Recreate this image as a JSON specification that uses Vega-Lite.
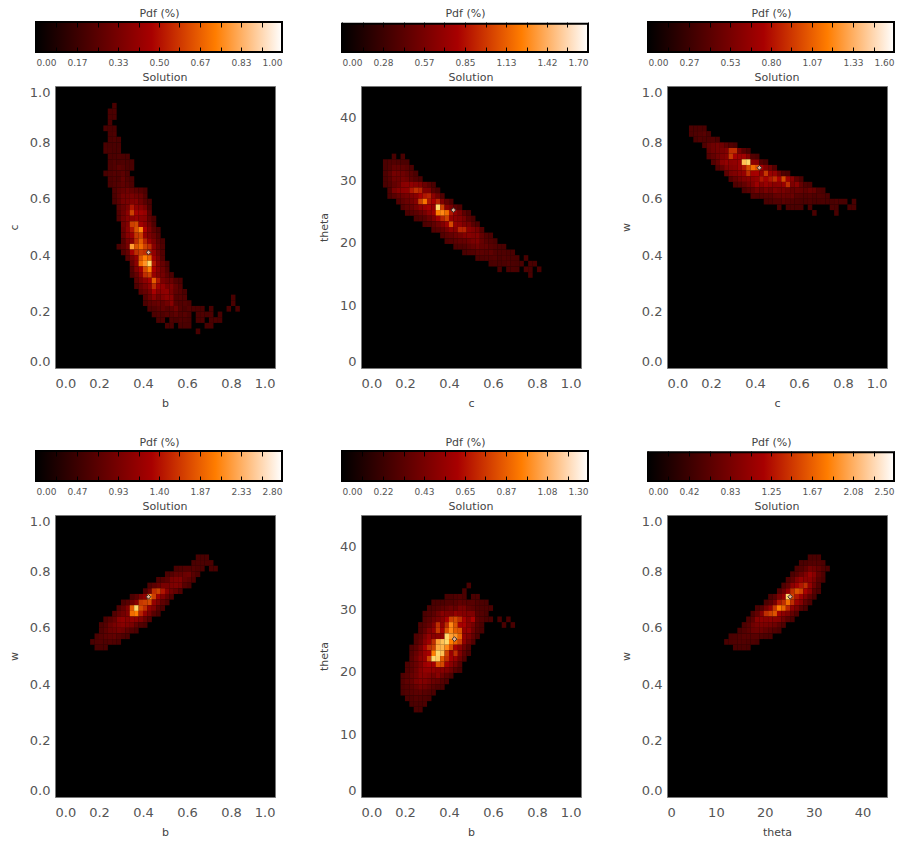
{
"$schema":"https://vega.github.io/schema/vega-lite/v6.json",
"background":"white","padding":{"left":7,"top":7,"right":0,"bottom":0},
"config":{"view":{"stroke":"#777","fill":"#000"},"axis":{"grid":false,"domain":false,"ticks":false,"labelFont":"DejaVu Sans","titleFont":"DejaVu Sans","labelColor":"#555","titleColor":"#444","labelFontSize":13,"titleFontSize":11,"titleFontWeight":"normal"},"title":{"font":"DejaVu Sans","fontSize":11,"fontWeight":"normal","color":"#444","offset":3},"axisX":{"labelPadding":9,"titlePadding":7},"axisY":{"labelFlush":true,"labelPadding":5,"titlePadding":10}},
"datasets":{
"bc":[
{"x":0.27,"y":0.93,"v":8},{"x":0.25,"y":0.91,"v":8},{"x":0.27,"y":0.91,"v":10},{"x":0.25,"y":0.89,"v":8},{"x":0.27,"y":0.89,"v":9},{"x":0.25,"y":0.87,"v":8},{"x":0.23,"y":0.85,"v":8},{"x":0.25,"y":0.85,"v":7},{"x":0.27,"y":0.85,"v":8},{"x":0.25,"y":0.83,"v":8},{"x":0.27,"y":0.83,"v":11},{"x":0.25,"y":0.81,"v":9},{"x":0.27,"y":0.81,"v":12},{"x":0.29,"y":0.81,"v":8},{"x":0.23,"y":0.79,"v":8},{"x":0.25,"y":0.79,"v":7},{"x":0.27,"y":0.79,"v":9},{"x":0.29,"y":0.79,"v":7},{"x":0.23,"y":0.77,"v":10},{"x":0.25,"y":0.77,"v":10},{"x":0.27,"y":0.77,"v":8},{"x":0.29,"y":0.77,"v":9},
{"x":0.25,"y":0.75,"v":10},{"x":0.27,"y":0.75,"v":10},{"x":0.29,"y":0.75,"v":12},{"x":0.31,"y":0.75,"v":9},{"x":0.33,"y":0.75,"v":7},{"x":0.25,"y":0.73,"v":8},{"x":0.27,"y":0.73,"v":14},{"x":0.29,"y":0.73,"v":10},{"x":0.31,"y":0.73,"v":12},{"x":0.33,"y":0.73,"v":9},{"x":0.35,"y":0.73,"v":7},{"x":0.25,"y":0.71,"v":10},{"x":0.27,"y":0.71,"v":14},{"x":0.29,"y":0.71,"v":20},{"x":0.31,"y":0.71,"v":16},{"x":0.33,"y":0.71,"v":10},{"x":0.35,"y":0.71,"v":8},{"x":0.23,"y":0.69,"v":7},{"x":0.25,"y":0.69,"v":12},{"x":0.27,"y":0.69,"v":16},{"x":0.29,"y":0.69,"v":14},{"x":0.31,"y":0.69,"v":20},{"x":0.33,"y":0.69,"v":12},{"x":0.25,"y":0.67,"v":10},{"x":0.27,"y":0.67,"v":14},{"x":0.29,"y":0.67,"v":12},{"x":0.31,"y":0.67,"v":24},{"x":0.33,"y":0.67,"v":14},{"x":0.35,"y":0.67,"v":8},{"x":0.25,"y":0.65,"v":8},{"x":0.27,"y":0.65,"v":14},{"x":0.29,"y":0.65,"v":16},{"x":0.31,"y":0.65,"v":22},{"x":0.33,"y":0.65,"v":18},{"x":0.35,"y":0.65,"v":10},
{"x":0.27,"y":0.63,"v":12},{"x":0.29,"y":0.63,"v":20},{"x":0.31,"y":0.63,"v":26},{"x":0.33,"y":0.63,"v":30},{"x":0.35,"y":0.63,"v":24},{"x":0.37,"y":0.63,"v":20},{"x":0.39,"y":0.63,"v":16},{"x":0.41,"y":0.63,"v":8},{"x":0.27,"y":0.61,"v":10},{"x":0.29,"y":0.61,"v":22},{"x":0.31,"y":0.61,"v":34},{"x":0.33,"y":0.61,"v":34},{"x":0.35,"y":0.61,"v":36},{"x":0.37,"y":0.61,"v":32},{"x":0.39,"y":0.61,"v":28},{"x":0.41,"y":0.61,"v":14},{"x":0.27,"y":0.59,"v":8},{"x":0.29,"y":0.59,"v":20},{"x":0.31,"y":0.59,"v":34},{"x":0.33,"y":0.59,"v":36},{"x":0.35,"y":0.59,"v":40},{"x":0.37,"y":0.59,"v":42},{"x":0.39,"y":0.59,"v":30},{"x":0.41,"y":0.59,"v":18},{"x":0.43,"y":0.59,"v":8},{"x":0.29,"y":0.57,"v":18},{"x":0.31,"y":0.57,"v":28},{"x":0.33,"y":0.57,"v":38},{"x":0.35,"y":0.57,"v":62},{"x":0.37,"y":0.57,"v":48},{"x":0.39,"y":0.57,"v":44},{"x":0.41,"y":0.57,"v":34},{"x":0.43,"y":0.57,"v":10},
{"x":0.29,"y":0.55,"v":14},{"x":0.31,"y":0.55,"v":30},{"x":0.33,"y":0.55,"v":46},{"x":0.35,"y":0.55,"v":70},{"x":0.37,"y":0.55,"v":60},{"x":0.39,"y":0.55,"v":56},{"x":0.41,"y":0.55,"v":50},{"x":0.43,"y":0.55,"v":20},{"x":0.29,"y":0.53,"v":12},{"x":0.31,"y":0.53,"v":32},{"x":0.33,"y":0.53,"v":44},{"x":0.35,"y":0.53,"v":46},{"x":0.37,"y":0.53,"v":52},{"x":0.39,"y":0.53,"v":46},{"x":0.41,"y":0.53,"v":44},{"x":0.43,"y":0.53,"v":24},{"x":0.45,"y":0.53,"v":10},{"x":0.31,"y":0.51,"v":30},{"x":0.33,"y":0.51,"v":42},{"x":0.35,"y":0.51,"v":70},{"x":0.37,"y":0.51,"v":72},{"x":0.39,"y":0.51,"v":56},{"x":0.41,"y":0.51,"v":46},{"x":0.43,"y":0.51,"v":32},{"x":0.45,"y":0.51,"v":12},{"x":0.31,"y":0.49,"v":26},{"x":0.33,"y":0.49,"v":46},{"x":0.35,"y":0.49,"v":62},{"x":0.37,"y":0.49,"v":74},{"x":0.39,"y":0.49,"v":85},{"x":0.41,"y":0.49,"v":60},{"x":0.43,"y":0.49,"v":40},{"x":0.45,"y":0.49,"v":20},{"x":0.47,"y":0.49,"v":8},
{"x":0.31,"y":0.47,"v":24},{"x":0.33,"y":0.47,"v":44},{"x":0.35,"y":0.47,"v":54},{"x":0.37,"y":0.47,"v":68},{"x":0.39,"y":0.47,"v":70},{"x":0.41,"y":0.47,"v":50},{"x":0.43,"y":0.47,"v":38},{"x":0.45,"y":0.47,"v":28},{"x":0.47,"y":0.47,"v":14},{"x":0.31,"y":0.45,"v":16},{"x":0.33,"y":0.45,"v":36},{"x":0.35,"y":0.45,"v":44},{"x":0.37,"y":0.45,"v":66},{"x":0.39,"y":0.45,"v":76},{"x":0.41,"y":0.45,"v":64},{"x":0.43,"y":0.45,"v":52},{"x":0.45,"y":0.45,"v":36},{"x":0.47,"y":0.45,"v":20},{"x":0.49,"y":0.45,"v":8},{"x":0.29,"y":0.43,"v":8},{"x":0.31,"y":0.43,"v":20},{"x":0.33,"y":0.43,"v":36},{"x":0.35,"y":0.43,"v":90},{"x":0.37,"y":0.43,"v":74},{"x":0.39,"y":0.43,"v":80},{"x":0.41,"y":0.43,"v":70},{"x":0.43,"y":0.43,"v":66},{"x":0.45,"y":0.43,"v":44},{"x":0.47,"y":0.43,"v":26},{"x":0.49,"y":0.43,"v":12},{"x":0.31,"y":0.41,"v":14},{"x":0.33,"y":0.41,"v":26},{"x":0.35,"y":0.41,"v":58},{"x":0.37,"y":0.41,"v":66},{"x":0.39,"y":0.41,"v":68},{"x":0.41,"y":0.41,"v":66},{"x":0.43,"y":0.41,"v":62},{"x":0.45,"y":0.41,"v":48},{"x":0.47,"y":0.41,"v":30},{"x":0.49,"y":0.41,"v":14},
{"x":0.33,"y":0.39,"v":18},{"x":0.35,"y":0.39,"v":34},{"x":0.37,"y":0.39,"v":50},{"x":0.39,"y":0.39,"v":74},{"x":0.41,"y":0.39,"v":84},{"x":0.43,"y":0.39,"v":78},{"x":0.45,"y":0.39,"v":56},{"x":0.47,"y":0.39,"v":38},{"x":0.49,"y":0.39,"v":16},{"x":0.35,"y":0.37,"v":24},{"x":0.37,"y":0.37,"v":46},{"x":0.39,"y":0.37,"v":80},{"x":0.41,"y":0.37,"v":88},{"x":0.43,"y":0.37,"v":100},{"x":0.45,"y":0.37,"v":62},{"x":0.47,"y":0.37,"v":42},{"x":0.49,"y":0.37,"v":26},{"x":0.51,"y":0.37,"v":10},{"x":0.35,"y":0.35,"v":14},{"x":0.37,"y":0.35,"v":40},{"x":0.39,"y":0.35,"v":56},{"x":0.41,"y":0.35,"v":72},{"x":0.43,"y":0.35,"v":84},{"x":0.45,"y":0.35,"v":60},{"x":0.47,"y":0.35,"v":44},{"x":0.49,"y":0.35,"v":30},{"x":0.51,"y":0.35,"v":14},{"x":0.35,"y":0.33,"v":10},{"x":0.37,"y":0.33,"v":26},{"x":0.39,"y":0.33,"v":46},{"x":0.41,"y":0.33,"v":66},{"x":0.43,"y":0.33,"v":70},{"x":0.45,"y":0.33,"v":52},{"x":0.47,"y":0.33,"v":40},{"x":0.49,"y":0.33,"v":34},{"x":0.51,"y":0.33,"v":20},{"x":0.53,"y":0.33,"v":8},
{"x":0.37,"y":0.31,"v":22},{"x":0.39,"y":0.31,"v":34},{"x":0.41,"y":0.31,"v":46},{"x":0.43,"y":0.31,"v":58},{"x":0.45,"y":0.31,"v":76},{"x":0.47,"y":0.31,"v":62},{"x":0.49,"y":0.31,"v":36},{"x":0.51,"y":0.31,"v":30},{"x":0.53,"y":0.31,"v":28},{"x":0.55,"y":0.31,"v":14},{"x":0.57,"y":0.31,"v":8},{"x":0.37,"y":0.29,"v":12},{"x":0.39,"y":0.29,"v":26},{"x":0.41,"y":0.29,"v":36},{"x":0.43,"y":0.29,"v":48},{"x":0.45,"y":0.29,"v":66},{"x":0.47,"y":0.29,"v":56},{"x":0.49,"y":0.29,"v":50},{"x":0.51,"y":0.29,"v":36},{"x":0.53,"y":0.29,"v":40},{"x":0.55,"y":0.29,"v":24},{"x":0.57,"y":0.29,"v":14},{"x":0.39,"y":0.27,"v":18},{"x":0.41,"y":0.27,"v":26},{"x":0.43,"y":0.27,"v":36},{"x":0.45,"y":0.27,"v":60},{"x":0.47,"y":0.27,"v":44},{"x":0.49,"y":0.27,"v":46},{"x":0.51,"y":0.27,"v":48},{"x":0.53,"y":0.27,"v":36},{"x":0.55,"y":0.27,"v":22},{"x":0.57,"y":0.27,"v":18},{"x":0.59,"y":0.27,"v":8},
{"x":0.41,"y":0.25,"v":16},{"x":0.43,"y":0.25,"v":30},{"x":0.45,"y":0.25,"v":44},{"x":0.47,"y":0.25,"v":32},{"x":0.49,"y":0.25,"v":40},{"x":0.51,"y":0.25,"v":46},{"x":0.53,"y":0.25,"v":44},{"x":0.55,"y":0.25,"v":16},{"x":0.57,"y":0.25,"v":18},{"x":0.59,"y":0.25,"v":14},{"x":0.81,"y":0.25,"v":7},{"x":0.41,"y":0.23,"v":10},{"x":0.43,"y":0.23,"v":20},{"x":0.45,"y":0.23,"v":24},{"x":0.47,"y":0.23,"v":28},{"x":0.49,"y":0.23,"v":24},{"x":0.51,"y":0.23,"v":32},{"x":0.53,"y":0.23,"v":44},{"x":0.55,"y":0.23,"v":18},{"x":0.57,"y":0.23,"v":14},{"x":0.59,"y":0.23,"v":16},{"x":0.61,"y":0.23,"v":10},{"x":0.81,"y":0.23,"v":8},{"x":0.43,"y":0.21,"v":12},{"x":0.45,"y":0.21,"v":14},{"x":0.47,"y":0.21,"v":20},{"x":0.49,"y":0.21,"v":24},{"x":0.51,"y":0.21,"v":18},{"x":0.53,"y":0.21,"v":22},{"x":0.55,"y":0.21,"v":30},{"x":0.57,"y":0.21,"v":16},{"x":0.59,"y":0.21,"v":10},{"x":0.61,"y":0.21,"v":16},{"x":0.63,"y":0.21,"v":10},{"x":0.65,"y":0.21,"v":8},{"x":0.67,"y":0.21,"v":8},{"x":0.71,"y":0.21,"v":7},{"x":0.79,"y":0.21,"v":7},{"x":0.83,"y":0.21,"v":8},
{"x":0.45,"y":0.19,"v":10},{"x":0.47,"y":0.19,"v":14},{"x":0.49,"y":0.19,"v":12},{"x":0.51,"y":0.19,"v":18},{"x":0.53,"y":0.19,"v":16},{"x":0.55,"y":0.19,"v":22},{"x":0.57,"y":0.19,"v":14},{"x":0.59,"y":0.19,"v":18},{"x":0.61,"y":0.19,"v":10},{"x":0.65,"y":0.19,"v":10},{"x":0.67,"y":0.19,"v":12},{"x":0.69,"y":0.19,"v":8},{"x":0.71,"y":0.19,"v":10},{"x":0.75,"y":0.19,"v":7},{"x":0.47,"y":0.17,"v":8},{"x":0.49,"y":0.17,"v":10},{"x":0.53,"y":0.17,"v":12},{"x":0.55,"y":0.17,"v":8},{"x":0.57,"y":0.17,"v":14},{"x":0.59,"y":0.17,"v":12},{"x":0.61,"y":0.17,"v":8},{"x":0.65,"y":0.17,"v":8},{"x":0.67,"y":0.17,"v":10},{"x":0.71,"y":0.17,"v":8},{"x":0.73,"y":0.17,"v":10},{"x":0.75,"y":0.17,"v":7},{"x":0.51,"y":0.15,"v":7},{"x":0.53,"y":0.15,"v":8},{"x":0.57,"y":0.15,"v":8},{"x":0.59,"y":0.15,"v":8},{"x":0.61,"y":0.15,"v":7},{"x":0.69,"y":0.15,"v":7},{"x":0.71,"y":0.15,"v":8},{"x":0.65,"y":0.13,"v":7}
],
"ct":[
{"x":0.15,"y":33.75,"v":8},{"x":0.19,"y":33.75,"v":8},{"x":0.11,"y":32.85,"v":8},{"x":0.13,"y":32.85,"v":12},{"x":0.15,"y":32.85,"v":14},{"x":0.17,"y":32.85,"v":12},{"x":0.19,"y":32.85,"v":10},{"x":0.21,"y":32.85,"v":8},{"x":0.11,"y":31.95,"v":8},{"x":0.13,"y":31.95,"v":14},{"x":0.15,"y":31.95,"v":24},{"x":0.17,"y":31.95,"v":24},{"x":0.19,"y":31.95,"v":22},{"x":0.21,"y":31.95,"v":18},{"x":0.23,"y":31.95,"v":10},{"x":0.11,"y":31.05,"v":10},{"x":0.13,"y":31.05,"v":20},{"x":0.15,"y":31.05,"v":34},{"x":0.17,"y":31.05,"v":32},{"x":0.19,"y":31.05,"v":30},{"x":0.21,"y":31.05,"v":24},{"x":0.23,"y":31.05,"v":18},{"x":0.25,"y":31.05,"v":8},{"x":0.11,"y":30.15,"v":8},{"x":0.13,"y":30.15,"v":18},{"x":0.15,"y":30.15,"v":30},{"x":0.17,"y":30.15,"v":30},{"x":0.19,"y":30.15,"v":34},{"x":0.21,"y":30.15,"v":30},{"x":0.23,"y":30.15,"v":22},{"x":0.25,"y":30.15,"v":14},{"x":0.27,"y":30.15,"v":8},
{"x":0.11,"y":29.25,"v":8},{"x":0.13,"y":29.25,"v":14},{"x":0.15,"y":29.25,"v":24},{"x":0.17,"y":29.25,"v":30},{"x":0.19,"y":29.25,"v":44},{"x":0.21,"y":29.25,"v":46},{"x":0.23,"y":29.25,"v":48},{"x":0.25,"y":29.25,"v":44},{"x":0.27,"y":29.25,"v":40},{"x":0.29,"y":29.25,"v":28},{"x":0.31,"y":29.25,"v":18},{"x":0.33,"y":29.25,"v":8},{"x":0.13,"y":28.35,"v":12},{"x":0.15,"y":28.35,"v":36},{"x":0.17,"y":28.35,"v":44},{"x":0.19,"y":28.35,"v":46},{"x":0.21,"y":28.35,"v":48},{"x":0.23,"y":28.35,"v":62},{"x":0.25,"y":28.35,"v":66},{"x":0.27,"y":28.35,"v":64},{"x":0.29,"y":28.35,"v":40},{"x":0.31,"y":28.35,"v":38},{"x":0.33,"y":28.35,"v":18},{"x":0.35,"y":28.35,"v":8},{"x":0.13,"y":27.45,"v":8},{"x":0.15,"y":27.45,"v":18},{"x":0.17,"y":27.45,"v":26},{"x":0.19,"y":27.45,"v":30},{"x":0.21,"y":27.45,"v":34},{"x":0.23,"y":27.45,"v":40},{"x":0.25,"y":27.45,"v":44},{"x":0.27,"y":27.45,"v":60},{"x":0.29,"y":27.45,"v":62},{"x":0.31,"y":27.45,"v":64},{"x":0.33,"y":27.45,"v":46},{"x":0.35,"y":27.45,"v":30},{"x":0.37,"y":27.45,"v":12},
{"x":0.17,"y":26.55,"v":14},{"x":0.19,"y":26.55,"v":22},{"x":0.21,"y":26.55,"v":28},{"x":0.23,"y":26.55,"v":34},{"x":0.25,"y":26.55,"v":42},{"x":0.27,"y":26.55,"v":70},{"x":0.29,"y":26.55,"v":82},{"x":0.31,"y":26.55,"v":62},{"x":0.33,"y":26.55,"v":60},{"x":0.35,"y":26.55,"v":64},{"x":0.37,"y":26.55,"v":40},{"x":0.39,"y":26.55,"v":24},{"x":0.41,"y":26.55,"v":12},{"x":0.19,"y":25.65,"v":14},{"x":0.21,"y":25.65,"v":22},{"x":0.23,"y":25.65,"v":26},{"x":0.25,"y":25.65,"v":34},{"x":0.27,"y":25.65,"v":46},{"x":0.29,"y":25.65,"v":52},{"x":0.31,"y":25.65,"v":58},{"x":0.33,"y":25.65,"v":50},{"x":0.35,"y":25.65,"v":100},{"x":0.37,"y":25.65,"v":70},{"x":0.39,"y":25.65,"v":44},{"x":0.41,"y":25.65,"v":34},{"x":0.43,"y":25.65,"v":20},{"x":0.45,"y":25.65,"v":10},{"x":0.21,"y":24.75,"v":10},{"x":0.23,"y":24.75,"v":16},{"x":0.25,"y":24.75,"v":20},{"x":0.27,"y":24.75,"v":28},{"x":0.29,"y":24.75,"v":34},{"x":0.31,"y":24.75,"v":46},{"x":0.33,"y":24.75,"v":56},{"x":0.35,"y":24.75,"v":84},{"x":0.37,"y":24.75,"v":86},{"x":0.39,"y":24.75,"v":80},{"x":0.41,"y":24.75,"v":62},{"x":0.43,"y":24.75,"v":50},{"x":0.45,"y":24.75,"v":36},{"x":0.47,"y":24.75,"v":20},{"x":0.49,"y":24.75,"v":8},
{"x":0.25,"y":23.85,"v":10},{"x":0.27,"y":23.85,"v":14},{"x":0.29,"y":23.85,"v":18},{"x":0.31,"y":23.85,"v":28},{"x":0.33,"y":23.85,"v":40},{"x":0.35,"y":23.85,"v":56},{"x":0.37,"y":23.85,"v":64},{"x":0.39,"y":23.85,"v":70},{"x":0.41,"y":23.85,"v":50},{"x":0.43,"y":23.85,"v":46},{"x":0.45,"y":23.85,"v":42},{"x":0.47,"y":23.85,"v":34},{"x":0.49,"y":23.85,"v":18},{"x":0.51,"y":23.85,"v":8},{"x":0.29,"y":22.95,"v":10},{"x":0.31,"y":22.95,"v":14},{"x":0.33,"y":22.95,"v":22},{"x":0.35,"y":22.95,"v":30},{"x":0.37,"y":22.95,"v":40},{"x":0.39,"y":22.95,"v":54},{"x":0.41,"y":22.95,"v":72},{"x":0.43,"y":22.95,"v":50},{"x":0.45,"y":22.95,"v":46},{"x":0.47,"y":22.95,"v":38},{"x":0.49,"y":22.95,"v":34},{"x":0.51,"y":22.95,"v":18},{"x":0.53,"y":22.95,"v":10},{"x":0.33,"y":22.05,"v":14},{"x":0.35,"y":22.05,"v":18},{"x":0.37,"y":22.05,"v":24},{"x":0.39,"y":22.05,"v":34},{"x":0.41,"y":22.05,"v":46},{"x":0.43,"y":22.05,"v":44},{"x":0.45,"y":22.05,"v":64},{"x":0.47,"y":22.05,"v":64},{"x":0.49,"y":22.05,"v":46},{"x":0.51,"y":22.05,"v":40},{"x":0.53,"y":22.05,"v":34},{"x":0.55,"y":22.05,"v":14},
{"x":0.37,"y":21.15,"v":14},{"x":0.39,"y":21.15,"v":20},{"x":0.41,"y":21.15,"v":24},{"x":0.43,"y":21.15,"v":30},{"x":0.45,"y":21.15,"v":34},{"x":0.47,"y":21.15,"v":42},{"x":0.49,"y":21.15,"v":44},{"x":0.51,"y":21.15,"v":40},{"x":0.53,"y":21.15,"v":42},{"x":0.55,"y":21.15,"v":24},{"x":0.57,"y":21.15,"v":14},{"x":0.59,"y":21.15,"v":8},{"x":0.39,"y":20.25,"v":12},{"x":0.41,"y":20.25,"v":16},{"x":0.43,"y":20.25,"v":20},{"x":0.45,"y":20.25,"v":24},{"x":0.47,"y":20.25,"v":26},{"x":0.49,"y":20.25,"v":30},{"x":0.51,"y":20.25,"v":36},{"x":0.53,"y":20.25,"v":40},{"x":0.55,"y":20.25,"v":26},{"x":0.57,"y":20.25,"v":18},{"x":0.59,"y":20.25,"v":14},{"x":0.61,"y":20.25,"v":8},{"x":0.43,"y":19.35,"v":10},{"x":0.45,"y":19.35,"v":12},{"x":0.47,"y":19.35,"v":14},{"x":0.49,"y":19.35,"v":20},{"x":0.51,"y":19.35,"v":26},{"x":0.53,"y":19.35,"v":32},{"x":0.55,"y":19.35,"v":24},{"x":0.57,"y":19.35,"v":24},{"x":0.59,"y":19.35,"v":18},{"x":0.61,"y":19.35,"v":14},{"x":0.63,"y":19.35,"v":10},{"x":0.65,"y":19.35,"v":8},
{"x":0.47,"y":18.45,"v":8},{"x":0.49,"y":18.45,"v":12},{"x":0.51,"y":18.45,"v":14},{"x":0.53,"y":18.45,"v":20},{"x":0.55,"y":18.45,"v":20},{"x":0.57,"y":18.45,"v":18},{"x":0.59,"y":18.45,"v":22},{"x":0.61,"y":18.45,"v":14},{"x":0.63,"y":18.45,"v":12},{"x":0.65,"y":18.45,"v":12},{"x":0.67,"y":18.45,"v":10},{"x":0.69,"y":18.45,"v":8},{"x":0.53,"y":17.55,"v":10},{"x":0.55,"y":17.55,"v":12},{"x":0.57,"y":17.55,"v":14},{"x":0.59,"y":17.55,"v":14},{"x":0.61,"y":17.55,"v":16},{"x":0.63,"y":17.55,"v":10},{"x":0.65,"y":17.55,"v":14},{"x":0.67,"y":17.55,"v":12},{"x":0.69,"y":17.55,"v":10},{"x":0.71,"y":17.55,"v":8},{"x":0.75,"y":17.55,"v":7},{"x":0.59,"y":16.65,"v":8},{"x":0.61,"y":16.65,"v":10},{"x":0.63,"y":16.65,"v":8},{"x":0.65,"y":16.65,"v":10},{"x":0.67,"y":16.65,"v":14},{"x":0.69,"y":16.65,"v":10},{"x":0.71,"y":16.65,"v":7},{"x":0.73,"y":16.65,"v":8},{"x":0.77,"y":16.65,"v":8},{"x":0.79,"y":16.65,"v":7},{"x":0.63,"y":15.75,"v":7},{"x":0.67,"y":15.75,"v":8},{"x":0.69,"y":15.75,"v":10},{"x":0.71,"y":15.75,"v":8},{"x":0.75,"y":15.75,"v":10},{"x":0.77,"y":15.75,"v":7},{"x":0.81,"y":15.75,"v":7},{"x":0.77,"y":14.85,"v":7}
],
"cw":[
{"x":0.11,"y":0.85,"v":10},{"x":0.13,"y":0.85,"v":8},{"x":0.15,"y":0.85,"v":9},{"x":0.17,"y":0.85,"v":8},{"x":0.11,"y":0.83,"v":9},{"x":0.13,"y":0.83,"v":12},{"x":0.15,"y":0.83,"v":14},{"x":0.17,"y":0.83,"v":18},{"x":0.19,"y":0.83,"v":8},{"x":0.13,"y":0.81,"v":8},{"x":0.15,"y":0.81,"v":14},{"x":0.17,"y":0.81,"v":12},{"x":0.19,"y":0.81,"v":12},{"x":0.21,"y":0.81,"v":14},{"x":0.23,"y":0.81,"v":8},{"x":0.17,"y":0.79,"v":12},{"x":0.19,"y":0.79,"v":24},{"x":0.21,"y":0.79,"v":30},{"x":0.23,"y":0.79,"v":34},{"x":0.25,"y":0.79,"v":30},{"x":0.27,"y":0.79,"v":22},{"x":0.29,"y":0.79,"v":14},{"x":0.31,"y":0.79,"v":8},{"x":0.19,"y":0.77,"v":22},{"x":0.21,"y":0.77,"v":30},{"x":0.23,"y":0.77,"v":34},{"x":0.25,"y":0.77,"v":36},{"x":0.27,"y":0.77,"v":42},{"x":0.29,"y":0.77,"v":66},{"x":0.31,"y":0.77,"v":66},{"x":0.33,"y":0.77,"v":36},{"x":0.35,"y":0.77,"v":18},{"x":0.37,"y":0.77,"v":8},
{"x":0.19,"y":0.75,"v":16},{"x":0.21,"y":0.75,"v":24},{"x":0.23,"y":0.75,"v":32},{"x":0.25,"y":0.75,"v":38},{"x":0.27,"y":0.75,"v":44},{"x":0.29,"y":0.75,"v":68},{"x":0.31,"y":0.75,"v":60},{"x":0.33,"y":0.75,"v":54},{"x":0.35,"y":0.75,"v":56},{"x":0.37,"y":0.75,"v":42},{"x":0.39,"y":0.75,"v":14},{"x":0.41,"y":0.75,"v":8},{"x":0.21,"y":0.73,"v":14},{"x":0.23,"y":0.73,"v":26},{"x":0.25,"y":0.73,"v":44},{"x":0.27,"y":0.73,"v":50},{"x":0.29,"y":0.73,"v":46},{"x":0.31,"y":0.73,"v":48},{"x":0.33,"y":0.73,"v":54},{"x":0.35,"y":0.73,"v":96},{"x":0.37,"y":0.73,"v":100},{"x":0.39,"y":0.73,"v":46},{"x":0.41,"y":0.73,"v":44},{"x":0.43,"y":0.73,"v":16},{"x":0.45,"y":0.73,"v":8},{"x":0.23,"y":0.71,"v":14},{"x":0.25,"y":0.71,"v":24},{"x":0.27,"y":0.71,"v":40},{"x":0.29,"y":0.71,"v":42},{"x":0.31,"y":0.71,"v":44},{"x":0.33,"y":0.71,"v":54},{"x":0.35,"y":0.71,"v":62},{"x":0.37,"y":0.71,"v":72},{"x":0.39,"y":0.71,"v":80},{"x":0.41,"y":0.71,"v":74},{"x":0.43,"y":0.71,"v":60},{"x":0.45,"y":0.71,"v":40},{"x":0.47,"y":0.71,"v":32},{"x":0.49,"y":0.71,"v":14},
{"x":0.27,"y":0.69,"v":22},{"x":0.29,"y":0.69,"v":36},{"x":0.31,"y":0.69,"v":40},{"x":0.33,"y":0.69,"v":46},{"x":0.35,"y":0.69,"v":50},{"x":0.37,"y":0.69,"v":66},{"x":0.39,"y":0.69,"v":58},{"x":0.41,"y":0.69,"v":60},{"x":0.43,"y":0.69,"v":50},{"x":0.45,"y":0.69,"v":68},{"x":0.47,"y":0.69,"v":52},{"x":0.49,"y":0.69,"v":50},{"x":0.51,"y":0.69,"v":30},{"x":0.53,"y":0.69,"v":14},{"x":0.55,"y":0.69,"v":8},{"x":0.29,"y":0.67,"v":16},{"x":0.31,"y":0.67,"v":26},{"x":0.33,"y":0.67,"v":34},{"x":0.35,"y":0.67,"v":40},{"x":0.37,"y":0.67,"v":44},{"x":0.39,"y":0.67,"v":46},{"x":0.41,"y":0.67,"v":50},{"x":0.43,"y":0.67,"v":62},{"x":0.45,"y":0.67,"v":58},{"x":0.47,"y":0.67,"v":62},{"x":0.49,"y":0.67,"v":66},{"x":0.51,"y":0.67,"v":60},{"x":0.53,"y":0.67,"v":72},{"x":0.55,"y":0.67,"v":56},{"x":0.57,"y":0.67,"v":44},{"x":0.59,"y":0.67,"v":22},{"x":0.61,"y":0.67,"v":8},
{"x":0.31,"y":0.65,"v":12},{"x":0.33,"y":0.65,"v":18},{"x":0.35,"y":0.65,"v":24},{"x":0.37,"y":0.65,"v":34},{"x":0.39,"y":0.65,"v":40},{"x":0.41,"y":0.65,"v":54},{"x":0.43,"y":0.65,"v":44},{"x":0.45,"y":0.65,"v":52},{"x":0.47,"y":0.65,"v":48},{"x":0.49,"y":0.65,"v":44},{"x":0.51,"y":0.65,"v":46},{"x":0.53,"y":0.65,"v":52},{"x":0.55,"y":0.65,"v":66},{"x":0.57,"y":0.65,"v":38},{"x":0.59,"y":0.65,"v":46},{"x":0.61,"y":0.65,"v":24},{"x":0.63,"y":0.65,"v":12},{"x":0.65,"y":0.65,"v":8},{"x":0.35,"y":0.63,"v":10},{"x":0.37,"y":0.63,"v":18},{"x":0.39,"y":0.63,"v":24},{"x":0.41,"y":0.63,"v":34},{"x":0.43,"y":0.63,"v":28},{"x":0.45,"y":0.63,"v":36},{"x":0.47,"y":0.63,"v":30},{"x":0.49,"y":0.63,"v":40},{"x":0.51,"y":0.63,"v":34},{"x":0.53,"y":0.63,"v":36},{"x":0.55,"y":0.63,"v":30},{"x":0.57,"y":0.63,"v":26},{"x":0.59,"y":0.63,"v":28},{"x":0.61,"y":0.63,"v":26},{"x":0.63,"y":0.63,"v":22},{"x":0.65,"y":0.63,"v":28},{"x":0.67,"y":0.63,"v":26},{"x":0.69,"y":0.63,"v":12},{"x":0.71,"y":0.63,"v":8},
{"x":0.39,"y":0.61,"v":14},{"x":0.41,"y":0.61,"v":12},{"x":0.43,"y":0.61,"v":16},{"x":0.45,"y":0.61,"v":18},{"x":0.47,"y":0.61,"v":18},{"x":0.49,"y":0.61,"v":24},{"x":0.51,"y":0.61,"v":26},{"x":0.53,"y":0.61,"v":28},{"x":0.55,"y":0.61,"v":26},{"x":0.57,"y":0.61,"v":28},{"x":0.59,"y":0.61,"v":18},{"x":0.61,"y":0.61,"v":16},{"x":0.63,"y":0.61,"v":14},{"x":0.65,"y":0.61,"v":16},{"x":0.67,"y":0.61,"v":12},{"x":0.69,"y":0.61,"v":14},{"x":0.71,"y":0.61,"v":12},{"x":0.73,"y":0.61,"v":8},{"x":0.45,"y":0.59,"v":8},{"x":0.47,"y":0.59,"v":10},{"x":0.49,"y":0.59,"v":14},{"x":0.51,"y":0.59,"v":14},{"x":0.53,"y":0.59,"v":20},{"x":0.55,"y":0.59,"v":16},{"x":0.57,"y":0.59,"v":14},{"x":0.59,"y":0.59,"v":12},{"x":0.61,"y":0.59,"v":10},{"x":0.63,"y":0.59,"v":10},{"x":0.65,"y":0.59,"v":12},{"x":0.67,"y":0.59,"v":8},{"x":0.69,"y":0.59,"v":8},{"x":0.71,"y":0.59,"v":10},{"x":0.73,"y":0.59,"v":8},{"x":0.75,"y":0.59,"v":8},{"x":0.77,"y":0.59,"v":12},{"x":0.79,"y":0.59,"v":8},{"x":0.81,"y":0.59,"v":7},{"x":0.85,"y":0.59,"v":7},{"x":0.51,"y":0.57,"v":8},{"x":0.55,"y":0.57,"v":9},{"x":0.57,"y":0.57,"v":10},{"x":0.59,"y":0.57,"v":8},{"x":0.61,"y":0.57,"v":8},{"x":0.65,"y":0.57,"v":8},{"x":0.75,"y":0.57,"v":10},{"x":0.77,"y":0.57,"v":8},{"x":0.83,"y":0.57,"v":8},{"x":0.85,"y":0.57,"v":8},{"x":0.67,"y":0.55,"v":8},{"x":0.77,"y":0.55,"v":7}
],
"bw":[
{"x":0.65,"y":0.85,"v":8},{"x":0.67,"y":0.85,"v":8},{"x":0.69,"y":0.85,"v":8},{"x":0.63,"y":0.83,"v":8},{"x":0.65,"y":0.83,"v":10},{"x":0.67,"y":0.83,"v":10},{"x":0.69,"y":0.83,"v":9},{"x":0.71,"y":0.83,"v":8},{"x":0.55,"y":0.81,"v":8},{"x":0.57,"y":0.81,"v":12},{"x":0.59,"y":0.81,"v":14},{"x":0.61,"y":0.81,"v":14},{"x":0.63,"y":0.81,"v":16},{"x":0.65,"y":0.81,"v":12},{"x":0.67,"y":0.81,"v":10},{"x":0.71,"y":0.81,"v":8},{"x":0.73,"y":0.81,"v":8},{"x":0.51,"y":0.79,"v":10},{"x":0.53,"y":0.79,"v":16},{"x":0.55,"y":0.79,"v":24},{"x":0.57,"y":0.79,"v":24},{"x":0.59,"y":0.79,"v":28},{"x":0.61,"y":0.79,"v":30},{"x":0.63,"y":0.79,"v":18},{"x":0.65,"y":0.79,"v":10},{"x":0.47,"y":0.77,"v":10},{"x":0.49,"y":0.77,"v":14},{"x":0.51,"y":0.77,"v":20},{"x":0.53,"y":0.77,"v":36},{"x":0.55,"y":0.77,"v":38},{"x":0.57,"y":0.77,"v":40},{"x":0.59,"y":0.77,"v":26},{"x":0.61,"y":0.77,"v":20},{"x":0.63,"y":0.77,"v":12},
{"x":0.43,"y":0.75,"v":12},{"x":0.45,"y":0.75,"v":20},{"x":0.47,"y":0.75,"v":28},{"x":0.49,"y":0.75,"v":36},{"x":0.51,"y":0.75,"v":36},{"x":0.53,"y":0.75,"v":38},{"x":0.55,"y":0.75,"v":40},{"x":0.57,"y":0.75,"v":36},{"x":0.59,"y":0.75,"v":18},{"x":0.61,"y":0.75,"v":10},{"x":0.41,"y":0.73,"v":12},{"x":0.43,"y":0.73,"v":30},{"x":0.45,"y":0.73,"v":66},{"x":0.47,"y":0.73,"v":70},{"x":0.49,"y":0.73,"v":62},{"x":0.51,"y":0.73,"v":44},{"x":0.53,"y":0.73,"v":32},{"x":0.55,"y":0.73,"v":24},{"x":0.57,"y":0.73,"v":12},{"x":0.35,"y":0.71,"v":10},{"x":0.37,"y":0.71,"v":20},{"x":0.39,"y":0.71,"v":36},{"x":0.41,"y":0.71,"v":46},{"x":0.43,"y":0.71,"v":86},{"x":0.45,"y":0.71,"v":70},{"x":0.47,"y":0.71,"v":56},{"x":0.49,"y":0.71,"v":40},{"x":0.51,"y":0.71,"v":24},{"x":0.53,"y":0.71,"v":14},
{"x":0.31,"y":0.69,"v":10},{"x":0.33,"y":0.69,"v":18},{"x":0.35,"y":0.69,"v":30},{"x":0.37,"y":0.69,"v":44},{"x":0.39,"y":0.69,"v":68},{"x":0.41,"y":0.69,"v":70},{"x":0.43,"y":0.69,"v":72},{"x":0.45,"y":0.69,"v":50},{"x":0.47,"y":0.69,"v":38},{"x":0.49,"y":0.69,"v":22},{"x":0.51,"y":0.69,"v":12},{"x":0.29,"y":0.67,"v":12},{"x":0.31,"y":0.67,"v":24},{"x":0.33,"y":0.67,"v":42},{"x":0.35,"y":0.67,"v":76},{"x":0.37,"y":0.67,"v":100},{"x":0.39,"y":0.67,"v":72},{"x":0.41,"y":0.67,"v":66},{"x":0.43,"y":0.67,"v":50},{"x":0.45,"y":0.67,"v":40},{"x":0.47,"y":0.67,"v":20},{"x":0.49,"y":0.67,"v":10},{"x":0.27,"y":0.65,"v":14},{"x":0.29,"y":0.65,"v":24},{"x":0.31,"y":0.65,"v":32},{"x":0.33,"y":0.65,"v":42},{"x":0.35,"y":0.65,"v":80},{"x":0.37,"y":0.65,"v":84},{"x":0.39,"y":0.65,"v":64},{"x":0.41,"y":0.65,"v":50},{"x":0.43,"y":0.65,"v":36},{"x":0.45,"y":0.65,"v":18},{"x":0.47,"y":0.65,"v":8},
{"x":0.23,"y":0.63,"v":10},{"x":0.25,"y":0.63,"v":18},{"x":0.27,"y":0.63,"v":26},{"x":0.29,"y":0.63,"v":44},{"x":0.31,"y":0.63,"v":48},{"x":0.33,"y":0.63,"v":44},{"x":0.35,"y":0.63,"v":48},{"x":0.37,"y":0.63,"v":46},{"x":0.39,"y":0.63,"v":40},{"x":0.41,"y":0.63,"v":26},{"x":0.43,"y":0.63,"v":14},{"x":0.21,"y":0.61,"v":10},{"x":0.23,"y":0.61,"v":16},{"x":0.25,"y":0.61,"v":28},{"x":0.27,"y":0.61,"v":36},{"x":0.29,"y":0.61,"v":40},{"x":0.31,"y":0.61,"v":44},{"x":0.33,"y":0.61,"v":40},{"x":0.35,"y":0.61,"v":36},{"x":0.37,"y":0.61,"v":24},{"x":0.39,"y":0.61,"v":14},{"x":0.41,"y":0.61,"v":8},{"x":0.21,"y":0.59,"v":12},{"x":0.23,"y":0.59,"v":20},{"x":0.25,"y":0.59,"v":28},{"x":0.27,"y":0.59,"v":30},{"x":0.29,"y":0.59,"v":34},{"x":0.31,"y":0.59,"v":30},{"x":0.33,"y":0.59,"v":22},{"x":0.35,"y":0.59,"v":14},{"x":0.37,"y":0.59,"v":8},{"x":0.19,"y":0.57,"v":10},{"x":0.21,"y":0.57,"v":16},{"x":0.23,"y":0.57,"v":20},{"x":0.25,"y":0.57,"v":22},{"x":0.27,"y":0.57,"v":24},{"x":0.29,"y":0.57,"v":18},{"x":0.31,"y":0.57,"v":12},{"x":0.33,"y":0.57,"v":8},{"x":0.17,"y":0.55,"v":8},{"x":0.19,"y":0.55,"v":12},{"x":0.21,"y":0.55,"v":14},{"x":0.23,"y":0.55,"v":12},{"x":0.25,"y":0.55,"v":14},{"x":0.27,"y":0.55,"v":12},{"x":0.29,"y":0.55,"v":8},{"x":0.19,"y":0.53,"v":8},{"x":0.21,"y":0.53,"v":8},{"x":0.23,"y":0.53,"v":8}
],
"bt":[
{"x":0.49,"y":33.75,"v":8},{"x":0.47,"y":32.85,"v":8},{"x":0.39,"y":31.95,"v":7},{"x":0.41,"y":31.95,"v":8},{"x":0.43,"y":31.95,"v":12},{"x":0.45,"y":31.95,"v":14},{"x":0.47,"y":31.95,"v":10},{"x":0.51,"y":31.95,"v":8},{"x":0.53,"y":31.95,"v":10},{"x":0.33,"y":31.05,"v":8},{"x":0.35,"y":31.05,"v":8},{"x":0.37,"y":31.05,"v":10},{"x":0.39,"y":31.05,"v":14},{"x":0.41,"y":31.05,"v":14},{"x":0.43,"y":31.05,"v":18},{"x":0.45,"y":31.05,"v":22},{"x":0.47,"y":31.05,"v":20},{"x":0.49,"y":31.05,"v":18},{"x":0.51,"y":31.05,"v":18},{"x":0.53,"y":31.05,"v":12},{"x":0.55,"y":31.05,"v":10},{"x":0.57,"y":31.05,"v":8},{"x":0.31,"y":30.15,"v":8},{"x":0.33,"y":30.15,"v":12},{"x":0.35,"y":30.15,"v":16},{"x":0.37,"y":30.15,"v":22},{"x":0.39,"y":30.15,"v":24},{"x":0.41,"y":30.15,"v":30},{"x":0.43,"y":30.15,"v":26},{"x":0.45,"y":30.15,"v":36},{"x":0.47,"y":30.15,"v":36},{"x":0.49,"y":30.15,"v":24},{"x":0.51,"y":30.15,"v":20},{"x":0.53,"y":30.15,"v":14},{"x":0.55,"y":30.15,"v":12},{"x":0.57,"y":30.15,"v":12},{"x":0.59,"y":30.15,"v":8},
{"x":0.29,"y":29.25,"v":8},{"x":0.31,"y":29.25,"v":14},{"x":0.33,"y":29.25,"v":20},{"x":0.35,"y":29.25,"v":30},{"x":0.37,"y":29.25,"v":44},{"x":0.39,"y":29.25,"v":40},{"x":0.41,"y":29.25,"v":38},{"x":0.43,"y":29.25,"v":50},{"x":0.45,"y":29.25,"v":44},{"x":0.47,"y":29.25,"v":42},{"x":0.49,"y":29.25,"v":40},{"x":0.51,"y":29.25,"v":38},{"x":0.53,"y":29.25,"v":18},{"x":0.55,"y":29.25,"v":14},{"x":0.57,"y":29.25,"v":8},{"x":0.29,"y":28.35,"v":14},{"x":0.31,"y":28.35,"v":20},{"x":0.33,"y":28.35,"v":30},{"x":0.35,"y":28.35,"v":36},{"x":0.37,"y":28.35,"v":44},{"x":0.39,"y":28.35,"v":60},{"x":0.41,"y":28.35,"v":70},{"x":0.43,"y":28.35,"v":72},{"x":0.45,"y":28.35,"v":66},{"x":0.47,"y":28.35,"v":60},{"x":0.49,"y":28.35,"v":44},{"x":0.51,"y":28.35,"v":60},{"x":0.53,"y":28.35,"v":22},{"x":0.55,"y":28.35,"v":16},{"x":0.57,"y":28.35,"v":10},{"x":0.59,"y":28.35,"v":7},{"x":0.63,"y":28.35,"v":7},{"x":0.67,"y":28.35,"v":7},
{"x":0.27,"y":27.45,"v":12},{"x":0.29,"y":27.45,"v":18},{"x":0.31,"y":27.45,"v":26},{"x":0.33,"y":27.45,"v":42},{"x":0.35,"y":27.45,"v":66},{"x":0.37,"y":27.45,"v":48},{"x":0.39,"y":27.45,"v":66},{"x":0.41,"y":27.45,"v":86},{"x":0.43,"y":27.45,"v":74},{"x":0.45,"y":27.45,"v":60},{"x":0.47,"y":27.45,"v":60},{"x":0.49,"y":27.45,"v":44},{"x":0.51,"y":27.45,"v":34},{"x":0.53,"y":27.45,"v":18},{"x":0.55,"y":27.45,"v":8},{"x":0.65,"y":27.45,"v":7},{"x":0.69,"y":27.45,"v":7},{"x":0.27,"y":26.55,"v":12},{"x":0.29,"y":26.55,"v":24},{"x":0.31,"y":26.55,"v":40},{"x":0.33,"y":26.55,"v":50},{"x":0.35,"y":26.55,"v":68},{"x":0.37,"y":26.55,"v":58},{"x":0.39,"y":26.55,"v":74},{"x":0.41,"y":26.55,"v":86},{"x":0.43,"y":26.55,"v":76},{"x":0.45,"y":26.55,"v":74},{"x":0.47,"y":26.55,"v":50},{"x":0.49,"y":26.55,"v":52},{"x":0.51,"y":26.55,"v":30},{"x":0.53,"y":26.55,"v":16},{"x":0.55,"y":26.55,"v":8},
{"x":0.25,"y":25.65,"v":12},{"x":0.27,"y":25.65,"v":20},{"x":0.29,"y":25.65,"v":36},{"x":0.31,"y":25.65,"v":50},{"x":0.33,"y":25.65,"v":44},{"x":0.35,"y":25.65,"v":46},{"x":0.37,"y":25.65,"v":48},{"x":0.39,"y":25.65,"v":100},{"x":0.41,"y":25.65,"v":90},{"x":0.43,"y":25.65,"v":88},{"x":0.45,"y":25.65,"v":78},{"x":0.47,"y":25.65,"v":50},{"x":0.49,"y":25.65,"v":40},{"x":0.51,"y":25.65,"v":24},{"x":0.53,"y":25.65,"v":10},{"x":0.25,"y":24.75,"v":14},{"x":0.27,"y":24.75,"v":26},{"x":0.29,"y":24.75,"v":44},{"x":0.31,"y":24.75,"v":56},{"x":0.33,"y":24.75,"v":66},{"x":0.35,"y":24.75,"v":90},{"x":0.37,"y":24.75,"v":96},{"x":0.39,"y":24.75,"v":100},{"x":0.41,"y":24.75,"v":84},{"x":0.43,"y":24.75,"v":78},{"x":0.45,"y":24.75,"v":70},{"x":0.47,"y":24.75,"v":48},{"x":0.49,"y":24.75,"v":30},{"x":0.51,"y":24.75,"v":14},
{"x":0.23,"y":23.85,"v":12},{"x":0.25,"y":23.85,"v":20},{"x":0.27,"y":23.85,"v":36},{"x":0.29,"y":23.85,"v":58},{"x":0.31,"y":23.85,"v":66},{"x":0.33,"y":23.85,"v":70},{"x":0.35,"y":23.85,"v":92},{"x":0.37,"y":23.85,"v":94},{"x":0.39,"y":23.85,"v":86},{"x":0.41,"y":23.85,"v":72},{"x":0.43,"y":23.85,"v":60},{"x":0.45,"y":23.85,"v":46},{"x":0.47,"y":23.85,"v":30},{"x":0.49,"y":23.85,"v":14},{"x":0.23,"y":22.95,"v":14},{"x":0.25,"y":22.95,"v":26},{"x":0.27,"y":22.95,"v":40},{"x":0.29,"y":22.95,"v":52},{"x":0.31,"y":22.95,"v":60},{"x":0.33,"y":22.95,"v":84},{"x":0.35,"y":22.95,"v":100},{"x":0.37,"y":22.95,"v":96},{"x":0.39,"y":22.95,"v":70},{"x":0.41,"y":22.95,"v":52},{"x":0.43,"y":22.95,"v":66},{"x":0.45,"y":22.95,"v":40},{"x":0.47,"y":22.95,"v":22},{"x":0.49,"y":22.95,"v":8},{"x":0.23,"y":22.05,"v":18},{"x":0.25,"y":22.05,"v":30},{"x":0.27,"y":22.05,"v":46},{"x":0.29,"y":22.05,"v":52},{"x":0.31,"y":22.05,"v":70},{"x":0.33,"y":22.05,"v":100},{"x":0.35,"y":22.05,"v":98},{"x":0.37,"y":22.05,"v":76},{"x":0.39,"y":22.05,"v":66},{"x":0.41,"y":22.05,"v":56},{"x":0.43,"y":22.05,"v":50},{"x":0.45,"y":22.05,"v":30},{"x":0.47,"y":22.05,"v":14},
{"x":0.21,"y":21.15,"v":12},{"x":0.23,"y":21.15,"v":20},{"x":0.25,"y":21.15,"v":28},{"x":0.27,"y":21.15,"v":40},{"x":0.29,"y":21.15,"v":54},{"x":0.31,"y":21.15,"v":60},{"x":0.33,"y":21.15,"v":58},{"x":0.35,"y":21.15,"v":74},{"x":0.37,"y":21.15,"v":72},{"x":0.39,"y":21.15,"v":58},{"x":0.41,"y":21.15,"v":44},{"x":0.43,"y":21.15,"v":34},{"x":0.45,"y":21.15,"v":16},{"x":0.21,"y":20.25,"v":14},{"x":0.23,"y":20.25,"v":20},{"x":0.25,"y":20.25,"v":30},{"x":0.27,"y":20.25,"v":44},{"x":0.29,"y":20.25,"v":50},{"x":0.31,"y":20.25,"v":50},{"x":0.33,"y":20.25,"v":48},{"x":0.35,"y":20.25,"v":44},{"x":0.37,"y":20.25,"v":44},{"x":0.39,"y":20.25,"v":40},{"x":0.41,"y":20.25,"v":30},{"x":0.43,"y":20.25,"v":18},{"x":0.45,"y":20.25,"v":8},{"x":0.19,"y":19.35,"v":12},{"x":0.21,"y":19.35,"v":18},{"x":0.23,"y":19.35,"v":26},{"x":0.25,"y":19.35,"v":32},{"x":0.27,"y":19.35,"v":44},{"x":0.29,"y":19.35,"v":44},{"x":0.31,"y":19.35,"v":40},{"x":0.33,"y":19.35,"v":34},{"x":0.35,"y":19.35,"v":44},{"x":0.37,"y":19.35,"v":30},{"x":0.39,"y":19.35,"v":20},{"x":0.41,"y":19.35,"v":10},
{"x":0.19,"y":18.45,"v":14},{"x":0.21,"y":18.45,"v":22},{"x":0.23,"y":18.45,"v":26},{"x":0.25,"y":18.45,"v":36},{"x":0.27,"y":18.45,"v":42},{"x":0.29,"y":18.45,"v":40},{"x":0.31,"y":18.45,"v":34},{"x":0.33,"y":18.45,"v":28},{"x":0.35,"y":18.45,"v":24},{"x":0.37,"y":18.45,"v":16},{"x":0.39,"y":18.45,"v":10},{"x":0.19,"y":17.55,"v":12},{"x":0.21,"y":17.55,"v":16},{"x":0.23,"y":17.55,"v":20},{"x":0.25,"y":17.55,"v":26},{"x":0.27,"y":17.55,"v":34},{"x":0.29,"y":17.55,"v":30},{"x":0.31,"y":17.55,"v":24},{"x":0.33,"y":17.55,"v":18},{"x":0.35,"y":17.55,"v":12},{"x":0.37,"y":17.55,"v":8},{"x":0.19,"y":16.65,"v":8},{"x":0.21,"y":16.65,"v":14},{"x":0.23,"y":16.65,"v":18},{"x":0.25,"y":16.65,"v":20},{"x":0.27,"y":16.65,"v":22},{"x":0.29,"y":16.65,"v":18},{"x":0.31,"y":16.65,"v":14},{"x":0.33,"y":16.65,"v":10},{"x":0.21,"y":15.75,"v":10},{"x":0.23,"y":15.75,"v":12},{"x":0.25,"y":15.75,"v":16},{"x":0.27,"y":15.75,"v":14},{"x":0.29,"y":15.75,"v":12},{"x":0.31,"y":15.75,"v":8},{"x":0.23,"y":14.85,"v":8},{"x":0.25,"y":14.85,"v":10},{"x":0.27,"y":14.85,"v":8},{"x":0.29,"y":14.85,"v":10},{"x":0.25,"y":13.95,"v":10},{"x":0.27,"y":13.95,"v":8}
],
"tw":[
{"x":29.25,"y":0.85,"v":8},{"x":30.15,"y":0.85,"v":8},{"x":31.05,"y":0.85,"v":7},{"x":27.45,"y":0.83,"v":8},{"x":28.35,"y":0.83,"v":10},{"x":29.25,"y":0.83,"v":14},{"x":30.15,"y":0.83,"v":16},{"x":31.05,"y":0.83,"v":14},{"x":31.95,"y":0.83,"v":10},{"x":26.55,"y":0.81,"v":10},{"x":27.45,"y":0.81,"v":14},{"x":28.35,"y":0.81,"v":22},{"x":29.25,"y":0.81,"v":34},{"x":30.15,"y":0.81,"v":30},{"x":31.05,"y":0.81,"v":24},{"x":31.95,"y":0.81,"v":14},{"x":32.85,"y":0.81,"v":8},{"x":25.65,"y":0.79,"v":10},{"x":26.55,"y":0.79,"v":18},{"x":27.45,"y":0.79,"v":28},{"x":28.35,"y":0.79,"v":40},{"x":29.25,"y":0.79,"v":52},{"x":30.15,"y":0.79,"v":44},{"x":31.05,"y":0.79,"v":24},{"x":31.95,"y":0.79,"v":12},{"x":24.75,"y":0.77,"v":12},{"x":25.65,"y":0.77,"v":22},{"x":26.55,"y":0.77,"v":40},{"x":27.45,"y":0.77,"v":50},{"x":28.35,"y":0.77,"v":46},{"x":29.25,"y":0.77,"v":46},{"x":30.15,"y":0.77,"v":36},{"x":31.05,"y":0.77,"v":18},{"x":31.95,"y":0.77,"v":8},
{"x":23.85,"y":0.75,"v":12},{"x":24.75,"y":0.75,"v":24},{"x":25.65,"y":0.75,"v":46},{"x":26.55,"y":0.75,"v":56},{"x":27.45,"y":0.75,"v":62},{"x":28.35,"y":0.75,"v":66},{"x":29.25,"y":0.75,"v":50},{"x":30.15,"y":0.75,"v":30},{"x":31.05,"y":0.75,"v":12},{"x":22.95,"y":0.73,"v":16},{"x":23.85,"y":0.73,"v":30},{"x":24.75,"y":0.73,"v":50},{"x":25.65,"y":0.73,"v":66},{"x":26.55,"y":0.73,"v":74},{"x":27.45,"y":0.73,"v":70},{"x":28.35,"y":0.73,"v":60},{"x":29.25,"y":0.73,"v":44},{"x":30.15,"y":0.73,"v":18},{"x":31.05,"y":0.73,"v":8},{"x":21.15,"y":0.71,"v":8},{"x":22.05,"y":0.71,"v":18},{"x":22.95,"y":0.71,"v":38},{"x":23.85,"y":0.71,"v":52},{"x":24.75,"y":0.71,"v":100},{"x":25.65,"y":0.71,"v":70},{"x":26.55,"y":0.71,"v":62},{"x":27.45,"y":0.71,"v":54},{"x":28.35,"y":0.71,"v":40},{"x":29.25,"y":0.71,"v":22},{"x":30.15,"y":0.71,"v":8},
{"x":20.25,"y":0.69,"v":10},{"x":21.15,"y":0.69,"v":20},{"x":22.05,"y":0.69,"v":34},{"x":22.95,"y":0.69,"v":62},{"x":23.85,"y":0.69,"v":66},{"x":24.75,"y":0.69,"v":80},{"x":25.65,"y":0.69,"v":66},{"x":26.55,"y":0.69,"v":54},{"x":27.45,"y":0.69,"v":42},{"x":28.35,"y":0.69,"v":24},{"x":29.25,"y":0.69,"v":10},{"x":18.45,"y":0.67,"v":8},{"x":19.35,"y":0.67,"v":16},{"x":20.25,"y":0.67,"v":34},{"x":21.15,"y":0.67,"v":50},{"x":22.05,"y":0.67,"v":68},{"x":22.95,"y":0.67,"v":84},{"x":23.85,"y":0.67,"v":78},{"x":24.75,"y":0.67,"v":64},{"x":25.65,"y":0.67,"v":48},{"x":26.55,"y":0.67,"v":36},{"x":27.45,"y":0.67,"v":18},{"x":28.35,"y":0.67,"v":8},{"x":17.55,"y":0.65,"v":10},{"x":18.45,"y":0.65,"v":24},{"x":19.35,"y":0.65,"v":44},{"x":20.25,"y":0.65,"v":66},{"x":21.15,"y":0.65,"v":70},{"x":22.05,"y":0.65,"v":74},{"x":22.95,"y":0.65,"v":56},{"x":23.85,"y":0.65,"v":46},{"x":24.75,"y":0.65,"v":38},{"x":25.65,"y":0.65,"v":24},{"x":26.55,"y":0.65,"v":12},
{"x":16.65,"y":0.63,"v":10},{"x":17.55,"y":0.63,"v":20},{"x":18.45,"y":0.63,"v":44},{"x":19.35,"y":0.63,"v":46},{"x":20.25,"y":0.63,"v":44},{"x":21.15,"y":0.63,"v":46},{"x":22.05,"y":0.63,"v":44},{"x":22.95,"y":0.63,"v":42},{"x":23.85,"y":0.63,"v":30},{"x":24.75,"y":0.63,"v":18},{"x":25.65,"y":0.63,"v":8},{"x":15.75,"y":0.61,"v":10},{"x":16.65,"y":0.61,"v":18},{"x":17.55,"y":0.61,"v":30},{"x":18.45,"y":0.61,"v":36},{"x":19.35,"y":0.61,"v":38},{"x":20.25,"y":0.61,"v":36},{"x":21.15,"y":0.61,"v":34},{"x":22.05,"y":0.61,"v":30},{"x":22.95,"y":0.61,"v":20},{"x":23.85,"y":0.61,"v":12},{"x":14.85,"y":0.59,"v":8},{"x":15.75,"y":0.59,"v":14},{"x":16.65,"y":0.59,"v":20},{"x":17.55,"y":0.59,"v":28},{"x":18.45,"y":0.59,"v":30},{"x":19.35,"y":0.59,"v":30},{"x":20.25,"y":0.59,"v":24},{"x":21.15,"y":0.59,"v":20},{"x":22.05,"y":0.59,"v":14},{"x":22.95,"y":0.59,"v":8},
{"x":13.05,"y":0.57,"v":8},{"x":13.95,"y":0.57,"v":10},{"x":14.85,"y":0.57,"v":14},{"x":15.75,"y":0.57,"v":18},{"x":16.65,"y":0.57,"v":18},{"x":17.55,"y":0.57,"v":18},{"x":18.45,"y":0.57,"v":18},{"x":19.35,"y":0.57,"v":14},{"x":20.25,"y":0.57,"v":10},{"x":21.15,"y":0.57,"v":8},{"x":12.15,"y":0.55,"v":8},{"x":13.05,"y":0.55,"v":10},{"x":13.95,"y":0.55,"v":12},{"x":14.85,"y":0.55,"v":14},{"x":15.75,"y":0.55,"v":14},{"x":16.65,"y":0.55,"v":12},{"x":17.55,"y":0.55,"v":12},{"x":18.45,"y":0.55,"v":8},{"x":13.95,"y":0.53,"v":8},{"x":14.85,"y":0.53,"v":8},{"x":15.75,"y":0.53,"v":10},{"x":16.65,"y":0.53,"v":8}
]
},
"spacing":27,
"vconcat":[
{"spacing":4,"vconcat":[
{"bounds":"flush","spacing":60,"hconcat":[
{"width":246,"height":30,"view":{"stroke":null,"fill":null},"data":{"values":[{"from":0,"to":1}]},"resolve":{"axis":{"x":"independent"}},"layer":[
{"mark":{"type":"rect","stroke":"#000","strokeWidth":2,"color":{"gradient":"linear","x1":0,"x2":1,"y1":0,"y2":0,"stops":[{"offset":0,"color":"#000000"},{"offset":0.47,"color":"#a80000"},{"offset":0.73,"color":"#ff7d00"},{"offset":1,"color":"#ffffff"}]}},"encoding":{"x":{"field":"from","type":"quantitative","scale":{"domain":[0,1],"nice":false},"axis":{"values":[0,0.0833,0.1667,0.25,0.3333,0.4167,0.5,0.5833,0.6667,0.75,0.8333,0.9167,1],"labelExpr":"round(datum.index*12)%2==0?format(datum.value,'.2f'):''","labelFontSize":9,"labelPadding":11,"ticks":true,"tickSize":-5,"tickColor":"#000","zindex":1,"title":null}},"x2":{"field":"to"},"y":{"field":"from","type":"quantitative","axis":null},"y2":{"field":"to"}}},
{"mark":{"type":"rect","opacity":0},"encoding":{"x":{"field":"from","type":"quantitative","scale":{"domain":[0,1],"nice":false},"axis":{"orient":"top","values":[0,0.0833,0.1667,0.25,0.3333,0.4167,0.5,0.5833,0.6667,0.75,0.8333,0.9167,1],"labels":false,"ticks":true,"tickSize":-5,"tickColor":"#000","zindex":1,"title":"Pdf (%)","titlePadding":3}},"x2":{"field":"to"},"y":{"field":"from","type":"quantitative","axis":null},"y2":{"field":"to"}}}
]},
{"width":246,"height":30,"view":{"stroke":null,"fill":null},"data":{"values":[{"from":0,"to":1.7}]},"resolve":{"axis":{"x":"independent"}},"layer":[
{"mark":{"type":"rect","stroke":"#000","strokeWidth":2,"color":{"gradient":"linear","x1":0,"x2":1,"y1":0,"y2":0,"stops":[{"offset":0,"color":"#000000"},{"offset":0.47,"color":"#a80000"},{"offset":0.73,"color":"#ff7d00"},{"offset":1,"color":"#ffffff"}]}},"encoding":{"x":{"field":"from","type":"quantitative","scale":{"domain":[0,1.7],"nice":false},"axis":{"values":[0,0.1417,0.2833,0.425,0.5667,0.7083,0.85,0.9917,1.1333,1.275,1.4167,1.5583,1.7],"labelExpr":"round(datum.index*12)%2==0?format(datum.value,'.2f'):''","labelFontSize":9,"labelPadding":11,"ticks":true,"tickSize":-5,"tickColor":"#000","zindex":1,"title":null}},"x2":{"field":"to"},"y":{"field":"from","type":"quantitative","axis":null},"y2":{"field":"to"}}},
{"mark":{"type":"rect","opacity":0},"encoding":{"x":{"field":"from","type":"quantitative","scale":{"domain":[0,1.7],"nice":false},"axis":{"orient":"top","values":[0,0.1417,0.2833,0.425,0.5667,0.7083,0.85,0.9917,1.1333,1.275,1.4167,1.5583,1.7],"labels":false,"ticks":true,"tickSize":-5,"tickColor":"#000","zindex":1,"title":"Pdf (%)","titlePadding":3}},"x2":{"field":"to"},"y":{"field":"from","type":"quantitative","axis":null},"y2":{"field":"to"}}}
]},
{"width":246,"height":30,"view":{"stroke":null,"fill":null},"data":{"values":[{"from":0,"to":1.6}]},"resolve":{"axis":{"x":"independent"}},"layer":[
{"mark":{"type":"rect","stroke":"#000","strokeWidth":2,"color":{"gradient":"linear","x1":0,"x2":1,"y1":0,"y2":0,"stops":[{"offset":0,"color":"#000000"},{"offset":0.47,"color":"#a80000"},{"offset":0.73,"color":"#ff7d00"},{"offset":1,"color":"#ffffff"}]}},"encoding":{"x":{"field":"from","type":"quantitative","scale":{"domain":[0,1.6],"nice":false},"axis":{"values":[0,0.1333,0.2667,0.4,0.5333,0.6667,0.8,0.9333,1.0667,1.2,1.3333,1.4667,1.6],"labelExpr":"round(datum.index*12)%2==0?format(datum.value,'.2f'):''","labelFontSize":9,"labelPadding":11,"ticks":true,"tickSize":-5,"tickColor":"#000","zindex":1,"title":null}},"x2":{"field":"to"},"y":{"field":"from","type":"quantitative","axis":null},"y2":{"field":"to"}}},
{"mark":{"type":"rect","opacity":0},"encoding":{"x":{"field":"from","type":"quantitative","scale":{"domain":[0,1.6],"nice":false},"axis":{"orient":"top","values":[0,0.1333,0.2667,0.4,0.5333,0.6667,0.8,0.9333,1.0667,1.2,1.3333,1.4667,1.6],"labels":false,"ticks":true,"tickSize":-5,"tickColor":"#000","zindex":1,"title":"Pdf (%)","titlePadding":3}},"x2":{"field":"to"},"y":{"field":"from","type":"quantitative","axis":null},"y2":{"field":"to"}}}
]}
]},
{"bounds":"flush","spacing":0,"hconcat":[
{"width":19,"height":282,"view":{"stroke":null,"fill":null},"data":{"values":[{"from":0}]},"mark":{"type":"rect","opacity":0},"encoding":{}},
{"bounds":"flush","spacing":86,"hconcat":[
{"width":220,"height":282,"title":"Solution","layer":[
{"data":{"name":"bc"},"mark":{"type":"rect","width":4.5,"height":5.7},"encoding":{"x":{"field":"x","type":"quantitative","title":"b","scale":{"domain":[0,1],"nice":false},"axis":{"values":[0,0.2,0.4,0.6,0.8,1],"format":".1f"}},"y":{"field":"y","type":"quantitative","title":"c","scale":{"domain":[0,1],"nice":false},"axis":{"values":[0,0.2,0.4,0.6,0.8,1],"format":".1f"}},"color":{"field":"v","type":"quantitative","legend":null,"scale":{"domain":[6,60,84,100],"range":["#000000","#a80000","#ff7d00","#ffffff"]}}}},
{"data":{"values":[{"x":0.425,"y":0.41}]},"mark":{"type":"point","shape":"diamond","size":22,"fill":"#e8b090","stroke":"#333","strokeWidth":1,"opacity":1},"encoding":{"x":{"field":"x","type":"quantitative"},"y":{"field":"y","type":"quantitative"}}}
]},
{"width":220,"height":282,"title":"Solution","layer":[
{"data":{"name":"ct"},"mark":{"type":"rect","width":4.5,"height":5.7},"encoding":{"x":{"field":"x","type":"quantitative","title":"c","scale":{"domain":[0,1],"nice":false},"axis":{"values":[0,0.2,0.4,0.6,0.8,1],"format":".1f"}},"y":{"field":"y","type":"quantitative","title":"theta","scale":{"domain":[0,45],"nice":false},"axis":{"values":[0,10,20,30,40],"format":"d"}},"color":{"field":"v","type":"quantitative","legend":null,"scale":{"domain":[6,60,84,100],"range":["#000000","#a80000","#ff7d00","#ffffff"]}}}},
{"data":{"values":[{"x":0.42,"y":25.2}]},"mark":{"type":"point","shape":"diamond","size":22,"fill":"#e8b090","stroke":"#333","strokeWidth":1,"opacity":1},"encoding":{"x":{"field":"x","type":"quantitative"},"y":{"field":"y","type":"quantitative"}}}
]},
{"width":220,"height":282,"title":"Solution","layer":[
{"data":{"name":"cw"},"mark":{"type":"rect","width":4.5,"height":5.7},"encoding":{"x":{"field":"x","type":"quantitative","title":"c","scale":{"domain":[0,1],"nice":false},"axis":{"values":[0,0.2,0.4,0.6,0.8,1],"format":".1f"}},"y":{"field":"y","type":"quantitative","title":"w","scale":{"domain":[0,1],"nice":false},"axis":{"values":[0,0.2,0.4,0.6,0.8,1],"format":".1f"}},"color":{"field":"v","type":"quantitative","legend":null,"scale":{"domain":[6,60,84,100],"range":["#000000","#a80000","#ff7d00","#ffffff"]}}}},
{"data":{"values":[{"x":0.42,"y":0.71}]},"mark":{"type":"point","shape":"diamond","size":22,"fill":"#e8b090","stroke":"#333","strokeWidth":1,"opacity":1},"encoding":{"x":{"field":"x","type":"quantitative"},"y":{"field":"y","type":"quantitative"}}}
]}
]}
]}
]},
{"spacing":4,"vconcat":[
{"bounds":"flush","spacing":60,"hconcat":[
{"width":246,"height":30,"view":{"stroke":null,"fill":null},"data":{"values":[{"from":0,"to":2.8}]},"resolve":{"axis":{"x":"independent"}},"layer":[
{"mark":{"type":"rect","stroke":"#000","strokeWidth":2,"color":{"gradient":"linear","x1":0,"x2":1,"y1":0,"y2":0,"stops":[{"offset":0,"color":"#000000"},{"offset":0.47,"color":"#a80000"},{"offset":0.73,"color":"#ff7d00"},{"offset":1,"color":"#ffffff"}]}},"encoding":{"x":{"field":"from","type":"quantitative","scale":{"domain":[0,2.8],"nice":false},"axis":{"values":[0,0.2333,0.4667,0.7,0.9333,1.1667,1.4,1.6333,1.8667,2.1,2.3333,2.5667,2.8],"labelExpr":"round(datum.index*12)%2==0?format(datum.value,'.2f'):''","labelFontSize":9,"labelPadding":11,"ticks":true,"tickSize":-5,"tickColor":"#000","zindex":1,"title":null}},"x2":{"field":"to"},"y":{"field":"from","type":"quantitative","axis":null},"y2":{"field":"to"}}},
{"mark":{"type":"rect","opacity":0},"encoding":{"x":{"field":"from","type":"quantitative","scale":{"domain":[0,2.8],"nice":false},"axis":{"orient":"top","values":[0,0.2333,0.4667,0.7,0.9333,1.1667,1.4,1.6333,1.8667,2.1,2.3333,2.5667,2.8],"labels":false,"ticks":true,"tickSize":-5,"tickColor":"#000","zindex":1,"title":"Pdf (%)","titlePadding":3}},"x2":{"field":"to"},"y":{"field":"from","type":"quantitative","axis":null},"y2":{"field":"to"}}}
]},
{"width":246,"height":30,"view":{"stroke":null,"fill":null},"data":{"values":[{"from":0,"to":1.3}]},"resolve":{"axis":{"x":"independent"}},"layer":[
{"mark":{"type":"rect","stroke":"#000","strokeWidth":2,"color":{"gradient":"linear","x1":0,"x2":1,"y1":0,"y2":0,"stops":[{"offset":0,"color":"#000000"},{"offset":0.47,"color":"#a80000"},{"offset":0.73,"color":"#ff7d00"},{"offset":1,"color":"#ffffff"}]}},"encoding":{"x":{"field":"from","type":"quantitative","scale":{"domain":[0,1.3],"nice":false},"axis":{"values":[0,0.1083,0.2167,0.325,0.4333,0.5417,0.65,0.7583,0.8667,0.975,1.0833,1.1917,1.3],"labelExpr":"round(datum.index*12)%2==0?format(datum.value,'.2f'):''","labelFontSize":9,"labelPadding":11,"ticks":true,"tickSize":-5,"tickColor":"#000","zindex":1,"title":null}},"x2":{"field":"to"},"y":{"field":"from","type":"quantitative","axis":null},"y2":{"field":"to"}}},
{"mark":{"type":"rect","opacity":0},"encoding":{"x":{"field":"from","type":"quantitative","scale":{"domain":[0,1.3],"nice":false},"axis":{"orient":"top","values":[0,0.1083,0.2167,0.325,0.4333,0.5417,0.65,0.7583,0.8667,0.975,1.0833,1.1917,1.3],"labels":false,"ticks":true,"tickSize":-5,"tickColor":"#000","zindex":1,"title":"Pdf (%)","titlePadding":3}},"x2":{"field":"to"},"y":{"field":"from","type":"quantitative","axis":null},"y2":{"field":"to"}}}
]},
{"width":246,"height":30,"view":{"stroke":null,"fill":null},"data":{"values":[{"from":0,"to":2.5}]},"resolve":{"axis":{"x":"independent"}},"layer":[
{"mark":{"type":"rect","stroke":"#000","strokeWidth":2,"color":{"gradient":"linear","x1":0,"x2":1,"y1":0,"y2":0,"stops":[{"offset":0,"color":"#000000"},{"offset":0.47,"color":"#a80000"},{"offset":0.73,"color":"#ff7d00"},{"offset":1,"color":"#ffffff"}]}},"encoding":{"x":{"field":"from","type":"quantitative","scale":{"domain":[0,2.5],"nice":false},"axis":{"values":[0,0.2083,0.4167,0.625,0.8333,1.0417,1.25,1.4583,1.6667,1.875,2.0833,2.2917,2.5],"labelExpr":"round(datum.index*12)%2==0?format(datum.value,'.2f'):''","labelFontSize":9,"labelPadding":11,"ticks":true,"tickSize":-5,"tickColor":"#000","zindex":1,"title":null}},"x2":{"field":"to"},"y":{"field":"from","type":"quantitative","axis":null},"y2":{"field":"to"}}},
{"mark":{"type":"rect","opacity":0},"encoding":{"x":{"field":"from","type":"quantitative","scale":{"domain":[0,2.5],"nice":false},"axis":{"orient":"top","values":[0,0.2083,0.4167,0.625,0.8333,1.0417,1.25,1.4583,1.6667,1.875,2.0833,2.2917,2.5],"labels":false,"ticks":true,"tickSize":-5,"tickColor":"#000","zindex":1,"title":"Pdf (%)","titlePadding":3}},"x2":{"field":"to"},"y":{"field":"from","type":"quantitative","axis":null},"y2":{"field":"to"}}}
]}
]},
{"bounds":"flush","spacing":0,"hconcat":[
{"width":19,"height":282,"view":{"stroke":null,"fill":null},"data":{"values":[{"from":0}]},"mark":{"type":"rect","opacity":0},"encoding":{}},
{"bounds":"flush","spacing":86,"hconcat":[
{"width":220,"height":282,"title":"Solution","layer":[
{"data":{"name":"bw"},"mark":{"type":"rect","width":4.5,"height":5.7},"encoding":{"x":{"field":"x","type":"quantitative","title":"b","scale":{"domain":[0,1],"nice":false},"axis":{"values":[0,0.2,0.4,0.6,0.8,1],"format":".1f"}},"y":{"field":"y","type":"quantitative","title":"w","scale":{"domain":[0,1],"nice":false},"axis":{"values":[0,0.2,0.4,0.6,0.8,1],"format":".1f"}},"color":{"field":"v","type":"quantitative","legend":null,"scale":{"domain":[6,60,84,100],"range":["#000000","#a80000","#ff7d00","#ffffff"]}}}},
{"data":{"values":[{"x":0.425,"y":0.71}]},"mark":{"type":"point","shape":"diamond","size":22,"fill":"#e8b090","stroke":"#333","strokeWidth":1,"opacity":1},"encoding":{"x":{"field":"x","type":"quantitative"},"y":{"field":"y","type":"quantitative"}}}
]},
{"width":220,"height":282,"title":"Solution","layer":[
{"data":{"name":"bt"},"mark":{"type":"rect","width":4.5,"height":5.7},"encoding":{"x":{"field":"x","type":"quantitative","title":"b","scale":{"domain":[0,1],"nice":false},"axis":{"values":[0,0.2,0.4,0.6,0.8,1],"format":".1f"}},"y":{"field":"y","type":"quantitative","title":"theta","scale":{"domain":[0,45],"nice":false},"axis":{"values":[0,10,20,30,40],"format":"d"}},"color":{"field":"v","type":"quantitative","legend":null,"scale":{"domain":[6,60,84,100],"range":["#000000","#a80000","#ff7d00","#ffffff"]}}}},
{"data":{"values":[{"x":0.425,"y":25.2}]},"mark":{"type":"point","shape":"diamond","size":22,"fill":"#e8b090","stroke":"#333","strokeWidth":1,"opacity":1},"encoding":{"x":{"field":"x","type":"quantitative"},"y":{"field":"y","type":"quantitative"}}}
]},
{"width":220,"height":282,"title":"Solution","layer":[
{"data":{"name":"tw"},"mark":{"type":"rect","width":4.5,"height":5.7},"encoding":{"x":{"field":"x","type":"quantitative","title":"theta","scale":{"domain":[0,45],"nice":false},"axis":{"values":[0,10,20,30,40],"format":"d"}},"y":{"field":"y","type":"quantitative","title":"w","scale":{"domain":[0,1],"nice":false},"axis":{"values":[0,0.2,0.4,0.6,0.8,1],"format":".1f"}},"color":{"field":"v","type":"quantitative","legend":null,"scale":{"domain":[6,60,84,100],"range":["#000000","#a80000","#ff7d00","#ffffff"]}}}},
{"data":{"values":[{"x":25.2,"y":0.71}]},"mark":{"type":"point","shape":"diamond","size":22,"fill":"#e8b090","stroke":"#333","strokeWidth":1,"opacity":1},"encoding":{"x":{"field":"x","type":"quantitative"},"y":{"field":"y","type":"quantitative"}}}
]}
]}
]}
]}
]
}
